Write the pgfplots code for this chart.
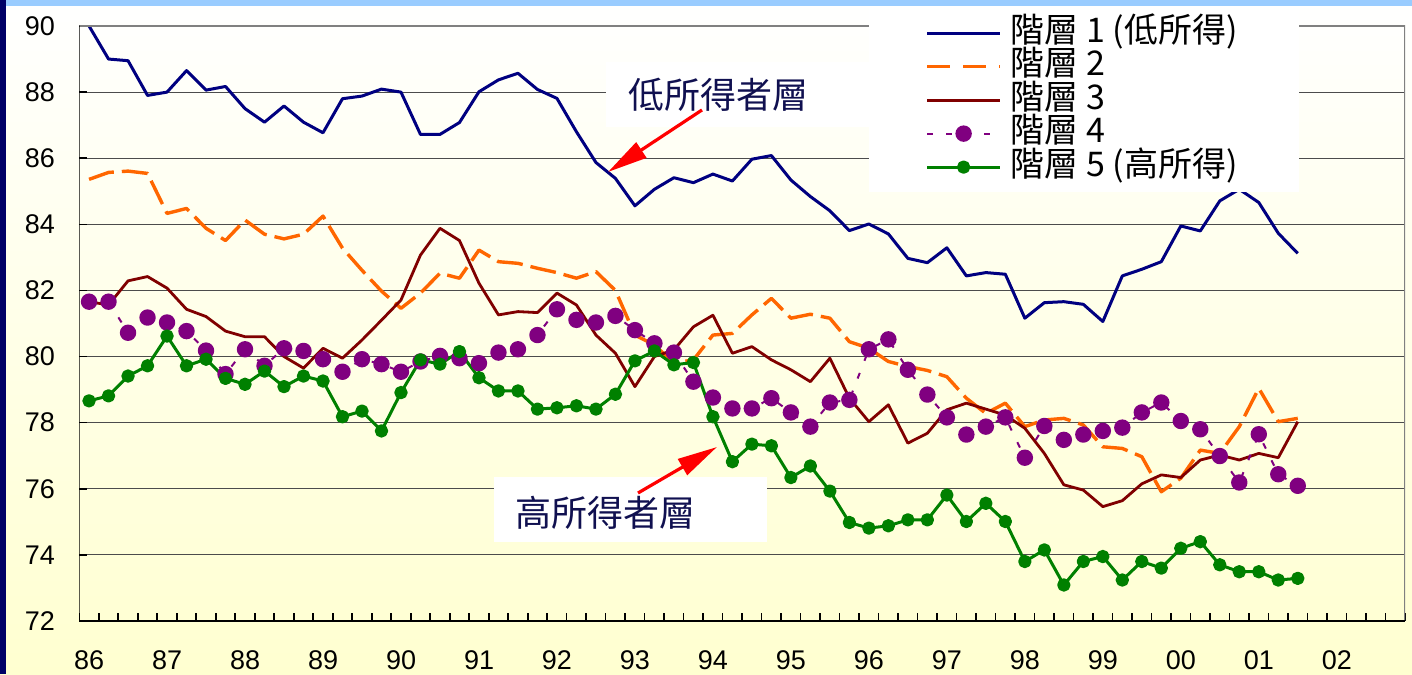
\documentclass[border=0pt]{standalone}
\usepackage{fontspec}
\setmainfont{Liberation Sans}
\newfontfamily\cjk{Noto Sans CJK TC}
\usepackage{pgfplots}
\pgfplotsset{compat=1.18}
\usepackage{pgfplotstable}
\usetikzlibrary{arrows.meta}

\definecolor{s1}{RGB}{0,0,128}
\definecolor{s2}{RGB}{255,102,0}
\definecolor{s3}{RGB}{128,0,0}
\definecolor{s4}{RGB}{128,0,128}
\definecolor{s5}{RGB}{0,128,0}
\definecolor{navybar}{RGB}{0,0,102}
\definecolor{topbar}{RGB}{153,204,255}
\definecolor{bgyellow}{RGB}{255,255,208}
\definecolor{labelnavy}{RGB}{16,16,80}

% quarterly index (0 = 86 Q1), five income layers
\pgfplotstableread{
i  a      b      c      d      e
0  90.00  85.36  81.66  81.66  78.66
1  89.00  85.57  81.56  81.66  78.81
2  88.95  85.61  82.29  80.72  79.41
3  87.90  85.54  82.42  81.18  79.72
4  88.00  84.33  82.07  81.03  80.62
5  88.65  84.48  81.43  80.77  79.72
6  88.06  83.88  81.21  80.18  79.92
7  88.17  83.51  80.77  79.47  79.34
8  87.50  84.13  80.60  80.22  79.16
9  87.09  83.70  80.60  79.72  79.56
10 87.58  83.56  80.00  80.25  79.09
11 87.09  83.70  79.65  80.17  79.41
12 86.77  84.25  80.25  79.92  79.26
13 87.80  83.28  79.95  79.54  78.18
14 87.88  82.61  80.50  79.92  78.35
15 88.09  81.98  81.10  79.77  77.75
16 88.00  81.46  81.71  79.54  78.91
17 86.72  81.92  83.07  79.85  79.90
18 86.72  82.52  83.88  80.02  79.77
19 87.08  82.37  83.51  79.95  80.15
20 88.01  83.22  82.22  79.80  79.36
21 88.37  82.87  81.26  80.12  78.96
22 88.57  82.82  81.36  80.22  78.96
23 88.08  82.67  81.33  80.65  78.41
24 87.81  82.54  81.92  81.43  78.45
25 86.80  82.37  81.56  81.11  78.51
26 85.87  82.57  80.65  81.03  78.41
27 85.39  82.00  80.10  81.23  78.86
28 84.56  80.65  79.09  80.80  79.87
29 85.06  80.35  80.00  80.40  80.17
30 85.41  79.80  80.20  80.12  79.75
31 85.26  79.90  80.90  79.24  79.82
32 85.52  80.65  81.25  78.76  78.18
33 85.31  80.70  80.10  78.43  76.82
34 85.97  81.26  80.30  78.43  77.35
35 86.08  81.76  79.90  78.74  77.30
36 85.34  81.16  79.60  78.31  76.34
37 84.84  81.28  79.24  77.88  76.69
38 84.41  81.16  79.95  78.61  75.93
39 83.81  80.45  78.74  78.69  74.98
40 84.01  80.25  78.03  80.22  74.81
41 83.71  79.85  78.54  80.52  74.88
42 82.97  79.70  77.38  79.60  75.06
43 82.84  79.58  77.68  78.85  75.06
44 83.29  79.39  78.39  78.16  75.81
45 82.44  78.74  78.59  77.64  75.01
46 82.54  78.28  78.41  77.88  75.56
47 82.49  78.59  78.23  78.16  75.01
48 81.16  77.88  77.83  76.94  73.80
49 81.63  78.08  77.07  77.90  74.15
50 81.66  78.13  76.12  77.48  73.09
51 81.58  77.93  75.96  77.64  73.80
52 81.06  77.27  75.46  77.75  73.95
53 82.44  77.22  75.64  77.85  73.24
54 82.64  76.97  76.15  78.31  73.80
55 82.87  75.91  76.42  78.61  73.60
56 83.95  76.32  76.34  78.05  74.20
57 83.80  77.17  76.87  77.80  74.40
58 84.71  77.07  77.02  76.99  73.70
59 85.06  77.88  76.87  76.19  73.49
60 84.66  79.04  77.07  77.65  73.49
61 83.73  78.03  76.94  76.44  73.24
62 83.12  78.13  78.03  76.09  73.29
}\data

\begin{document}
\begin{tikzpicture}
\useasboundingbox (0,0) rectangle (706pt,337pt);
\shade[top color=white, bottom color=bgyellow] (0,0) rectangle (706pt,337pt);
\fill[topbar] (0,334pt) rectangle (706pt,337pt);
\fill[navybar] (0,0) rectangle (3pt,337pt);

\begin{axis}[
    at={(39.65pt,26.5pt)}, anchor=south west,
    scale only axis, width=662.85pt, height=297.5pt,
    xmin=-0.5, xmax=67.5, ymin=72, ymax=90,
    xtick={-0.5,3.5,...,67.5},
    xticklabels={86,87,88,89,90,91,92,93,94,95,96,97,98,99,00,01,02,{}},
    minor x tick num=3,
    ytick={72,74,...,90},
    tick pos=left, tick align=inside,
    major tick length=4pt, minor tick length=4pt,
    tick style={black, line width=0.8pt},
    axis line style={draw=none},
    ymajorgrids, grid style={black!70, line width=0.6pt},
    /pgf/number format/assume math mode=true,
    ticklabel style={font=\fontsize{13.5}{16}\selectfont},
    yticklabel style={inner sep=0pt, anchor=east, xshift=-12pt},
    xticklabel style={inner sep=0pt, anchor=north, yshift=-14.5pt, xshift=4.9pt},
    every axis plot/.append style={line join=round},
    legend image code/.code={\draw[mark repeat=2, mark phase=2, #1]
        plot coordinates {(0pt,0pt) (18.25pt,0pt) (36.5pt,0pt)};},
    legend cell align=left,
    legend style={at={(axis description cs:0.5957,1.0303)}, anchor=north west,
        draw=none, fill=white, inner xsep=28pt, inner ysep=4pt,
        font=\cjk\fontsize{17}{20}\selectfont,
        nodes={inner sep=0pt, text height=13pt, text depth=3.75pt},
        /tikz/every odd column/.style={column sep=4.5pt}},
]
\addplot[s1, line width=1.5pt] table[x=i, y=a] {\data};
\addplot[s2, line width=1.7pt, dash pattern=on 13pt off 4pt,
    legend image post style={dash pattern=on 11.5pt off 6.5pt}] table[x=i, y=b] {\data};
\addplot[s3, line width=1.4pt] table[x=i, y=c] {\data};
\addplot[s4, line width=1pt, dash pattern=on 3pt off 6.5pt,
    mark=*, mark size=3.6pt, mark options={solid, fill=s4, draw=none}] table[x=i, y=d] {\data};
\addplot[s5, line width=1.5pt,
    mark=*, mark size=2.6pt, mark options={solid, fill=s5, draw=none}] table[x=i, y=e] {\data};
\draw[black!50, line width=1pt] (rel axis cs:0,1) -- (rel axis cs:1,1) -- (rel axis cs:1,0);
\draw[black, line width=1pt] (rel axis cs:0,1) -- (rel axis cs:0,0) -- (rel axis cs:1,0);
\legend{\makebox[116pt][l]{階層 1 (低所得)}, 階層 2, 階層 3, 階層 4, 階層 5 (高所得)}
\end{axis}

% annotations, in pixel units of the 1412x674 layout
\begin{scope}[x=0.5pt, y=-0.5pt, shift={(0pt,337pt)}]
\fill[white] (606,62) rectangle (870,127);
\node[anchor=west, inner sep=0pt, text=labelnavy, font=\cjk\fontsize{18}{20}\selectfont] at (628,95) {低所得者層};
\fill[white] (494,477) rectangle (767,542);
\node[anchor=west, inner sep=0pt, text=labelnavy, font=\cjk\fontsize{18}{20}\selectfont] at (515,513) {高所得者層};
\draw[red, line width=1.6pt, -{Triangle[length=20pt, width=9pt]}] (702,110) -- (608,172);
\draw[red, line width=1.6pt, -{Triangle[length=20pt, width=9pt]}] (638,493) -- (717,447);
\end{scope}
\end{tikzpicture}
\end{document}
